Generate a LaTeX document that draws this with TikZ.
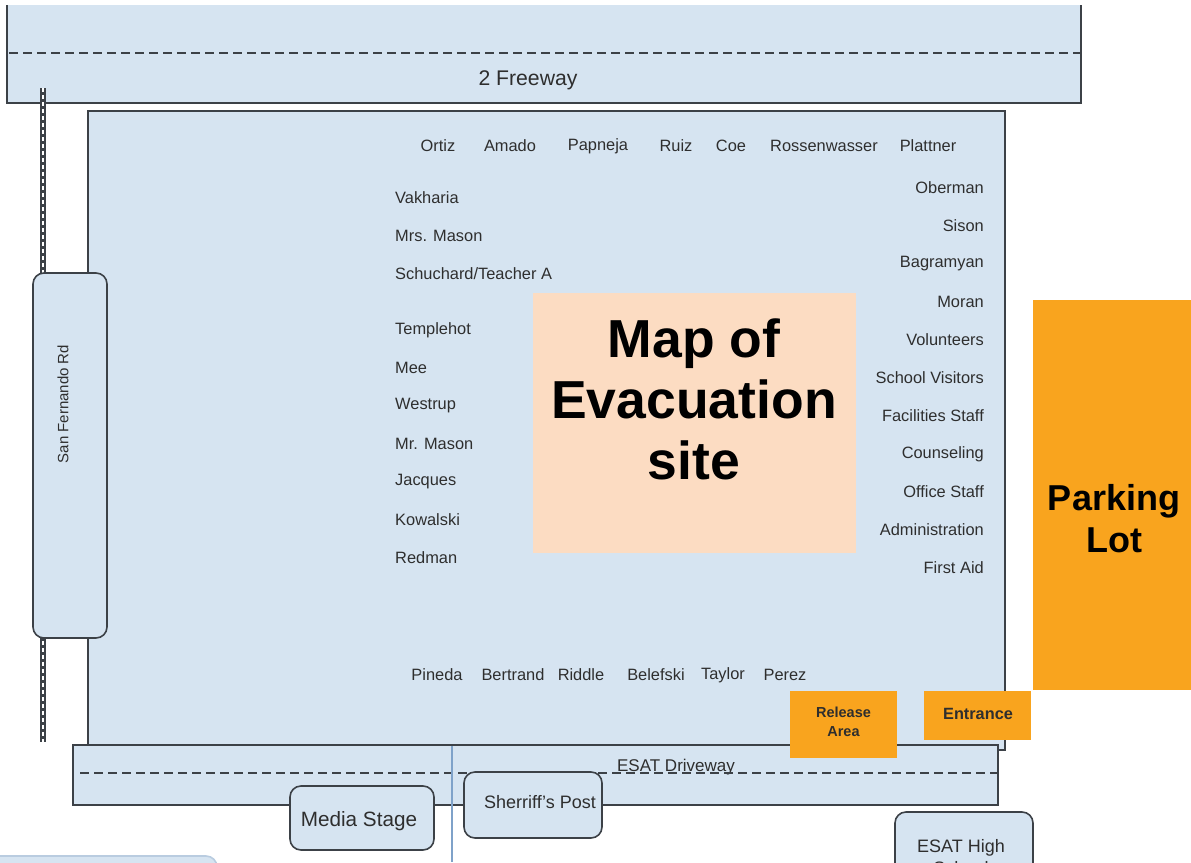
\documentclass[tikz,border=0pt]{standalone}
\usepackage{fontspec}
\setmainfont{Liberation Sans}
\definecolor{lblue}{HTML}{D6E4F1}
\definecolor{edge}{HTML}{3C4147}
\definecolor{namec}{HTML}{2E2E2E}
\definecolor{orng}{HTML}{F9A41E}
\definecolor{peach}{HTML}{FCDCC2}
\definecolor{vline}{HTML}{7FA2C9}
\definecolor{paleedge}{HTML}{B9CCE0}
\tikzset{
  area/.style={fill=lblue, draw=edge, line width=1.6pt, inner sep=0pt},
  rbox/.style={area, rounded corners=11pt},
  nm/.style={font=\fontsize{16.4}{18}\selectfont, text=namec, inner sep=0pt},
  lnm/.style={nm, anchor=west},
  rnm/.style={nm, anchor=east},
  lbl/.style={font=\fontsize{19}{22}\selectfont, text=namec, inner sep=0pt},
  orangebox/.style={fill=orng, draw=none, inner sep=0pt},
  roadline/.style={draw=edge, line width=2.4pt, dash pattern=on 9pt off 5pt},
}
\begin{document}
\begin{tikzpicture}[x=1pt,y=-1pt]
\useasboundingbox (0,0) rectangle (1191,862);
\clip (0,0) rectangle (1191,862);
% freeway
\fill[lblue] (7,5) rectangle (1081,103);
\draw[edge, line width=1.6pt] (7,5) -- (7,103) -- (1081,103) -- (1081,5);
\coordinate (fwL) at (9,53);
\coordinate (fwR) at (1081,53);
\draw[roadline] (fwL) -- (fwR);
\node[lbl, font=\fontsize{21.2}{22}\selectfont] (freeway) at (528,80) {2 Freeway};
% main site area
\node[area, minimum width=917pt, minimum height=639pt] (site) at (546.5,430.5) {};
% rail
\coordinate (railtop) at (43,88);
\coordinate (railbot) at (43,742);
\draw[draw=edge, line width=6pt] (railtop) -- (railbot);
\draw[white, line width=1.8pt, dash pattern=on 4pt off 3pt] (railtop) -- (railbot);
% San Fernando Rd
\node[rbox, minimum width=74pt, minimum height=365pt] (sf) at (70,455.5) {};
\node[nm, rotate=90, font=\fontsize{15}{18}\selectfont] (sftext) at (63,404) {San Fernando Rd};
% map title box
\node[fill=peach, draw=none, minimum width=323pt, minimum height=260pt] (mapbox) at (694.5,423) {};
\node[align=center, font=\bfseries\fontsize{53.5}{61}\selectfont, inner sep=0pt] (maptext) at (694,399) {Map of\\Evacuation\\site};
% parking lot
\node[orangebox, minimum width=158pt, minimum height=390pt] (parking) at (1112,495) {};
\node[align=center, font=\bfseries\fontsize{36}{42}\selectfont, inner sep=0pt] (parktext) at (1114,519) {Parking\\Lot};
% top row
\node[nm] (ortiz) at (438,146) {Ortiz};
\node[nm] (amado) at (510,146) {Amado};
\node[nm] (papneja) at (598,146) {Papneja};
\node[nm] (ruiz) at (676,146) {Ruiz};
\node[nm] (coe) at (731,146) {Coe};
\node[nm] (rossen) at (824,146) {Rossenwasser};
\node[nm] (plattner) at (928,146) {Plattner};
% left column
\node[lnm] (vakharia) at (395,198) {Vakharia};
\node[lnm] (mrsmason) at (395,236) {Mrs. Mason};
\node[lnm] (schuchard) at (395,274) {Schuchard/Teacher A};
\node[lnm] (templehot) at (395,330) {Templehot};
\node[lnm] (mee) at (395,368) {Mee};
\node[lnm] (westrup) at (395,406) {Westrup};
\node[lnm] (mrmason) at (395,444) {Mr. Mason};
\node[lnm] (jacques) at (395,482) {Jacques};
\node[lnm] (kowalski) at (395,520) {Kowalski};
\node[lnm] (redman) at (395,558) {Redman};
% right column
\node[rnm] (oberman) at (984,188) {Oberman};
\node[rnm] (sison) at (984,226) {Sison};
\node[rnm] (bagramyan) at (984,264) {Bagramyan};
\node[rnm] (moran) at (984,302) {Moran};
\node[rnm] (volunteers) at (984,340) {Volunteers};
\node[rnm] (visitors) at (984,378) {School Visitors};
\node[rnm] (facilities) at (984,416) {Facilities Staff};
\node[rnm] (counseling) at (984,454) {Counseling};
\node[rnm] (office) at (984,492) {Office Staff};
\node[rnm] (admin) at (984,530) {Administration};
\node[rnm] (firstaid) at (984,568) {First Aid};
% bottom row
\node[nm] (pineda) at (437,675) {Pineda};
\node[nm] (bertrand) at (513,675) {Bertrand};
\node[nm] (riddle) at (581,675) {Riddle};
\node[nm] (belefski) at (656,675) {Belefski};
\node[nm] (taylor) at (723,675) {Taylor};
\node[nm] (perez) at (785,675) {Perez};
% driveway
\node[area, minimum width=925pt, minimum height=60pt] (driveway) at (535.5,775) {};
\node[nm, font=\fontsize{17}{18}\selectfont] (drivetext) at (676,767) {ESAT Driveway};
\coordinate (dwL) at (80,773);
\coordinate (dwR) at (1000,773);
\draw[roadline] (dwL) -- (dwR);
% vertical blue line
\coordinate (vtop) at (452,746);
\coordinate (vbot) at (452,862);
\draw[vline, line width=2pt] (vtop) -- (vbot);
% release / entrance
\node[orangebox, minimum width=107pt, minimum height=67pt] (release) at (843.5,724.5) {};
\node[align=center, font=\bfseries\fontsize{14.5}{19}\selectfont, text=namec, inner sep=0pt] (reltext) at (843.5,721.5) {Release\\Area};
\node[orangebox, minimum width=107pt, minimum height=49pt] (entrance) at (977.5,715.5) {};
\node[font=\bfseries\fontsize{16.3}{18}\selectfont, text=namec, inner sep=0pt] (enttext) at (978,714) {Entrance};
% media stage / sherriff's post
\node[rbox, minimum width=144pt, minimum height=64pt] (media) at (362,818) {};
\node[lbl, font=\fontsize{20.7}{22}\selectfont] (mediatext) at (359,821) {Media Stage};
\node[rbox, minimum width=138pt, minimum height=66pt] (sheriff) at (533,805) {};
\node[lbl, font=\fontsize{18}{22}\selectfont] (sherifftext) at (540,802) {Sherriff's Post};
% ESAT High
\node[rbox, minimum width=138pt, minimum height=100pt] (esat) at (964,862) {};
\node[lbl, font=\fontsize{18}{22}\selectfont] (esattext) at (961,848) {ESAT High};
\node[lbl, font=\fontsize{18}{22}\selectfont] (esattext2) at (961,868) {School};
% bottom-left partial box
\node[fill=lblue, draw=paleedge, line width=1.6pt, rounded corners=11pt, minimum width=230pt, minimum height=60pt, inner sep=0pt] (blbox) at (102,886) {};
\end{tikzpicture}
\end{document}
